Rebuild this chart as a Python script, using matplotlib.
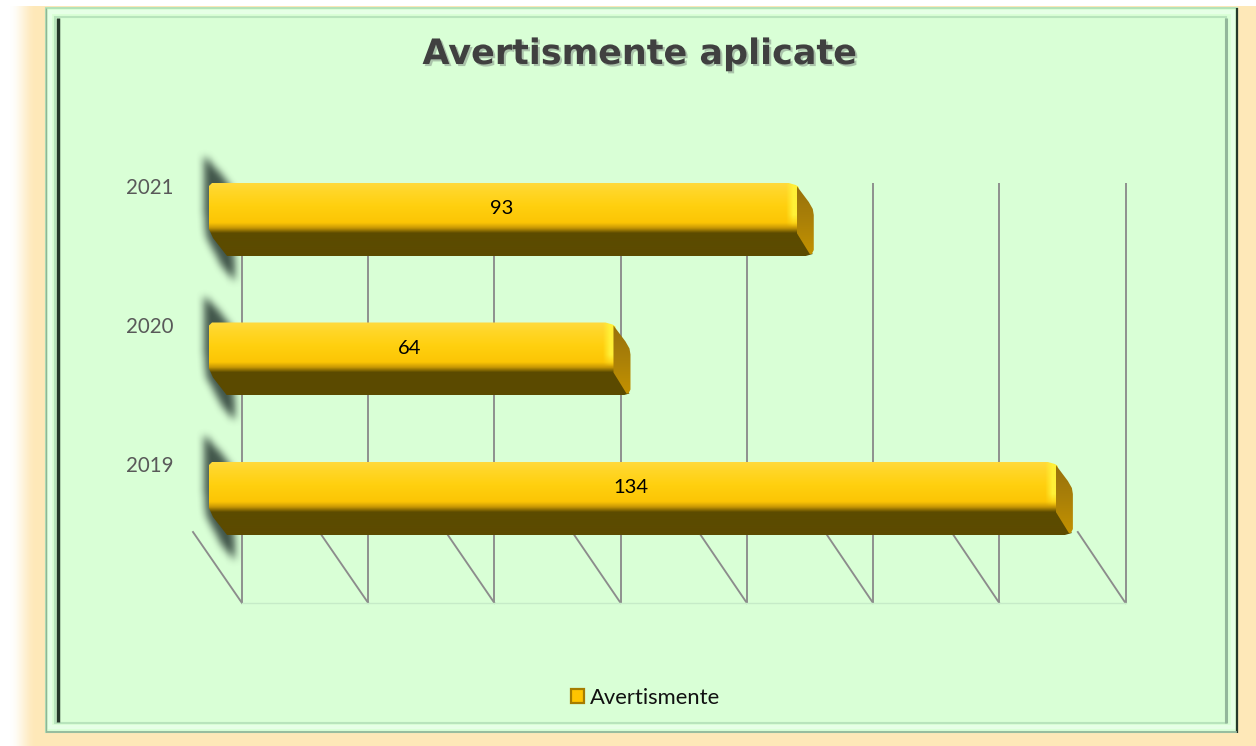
import numpy as np
import matplotlib
matplotlib.use('Agg')
import matplotlib.pyplot as plt
import matplotlib.patheffects as pe
from matplotlib.patches import Patch, Polygon
from matplotlib.path import Path
from matplotlib.transforms import Affine2D

anios = ['2019', '2020', '2021']
avertismente = [134, 64, 93]
ticks_x = [0, 20, 40, 60, 80, 100, 120, 140]
titulo = 'Avertismente aplicate'
serie = 'Avertismente'

W, H = 1256, 746
PX_VALOR = 6.32
PX_FILA = 139.5
CENTRO_2020 = 359
ALTO_PX = 73
ESCALA_ATRAS = 883.5 / 884.8

plt.rcParams['font.family'] = ['Lato', 'DejaVu Sans']


def fila(py):
    """Pasa un pixel vertical a unidades del eje de categorias."""
    return (CENTRO_2020 - py) / PX_FILA + 1


def degradado(paradas, n):
    pos = [p[0] for p in paradas]
    cols = np.array([p[1] for p in paradas], dtype=float) / 255
    t = np.linspace(0, 1, n)
    return np.stack([np.interp(t, pos, cols[:, i]) for i in range(3)], axis=1)


def suavizar(m, r):
    k = np.ones(2 * r + 1) / (2 * r + 1)
    for _ in range(2):
        m = np.apply_along_axis(lambda f: np.convolve(f, k, mode='same'), 0, m)
        m = np.apply_along_axis(lambda f: np.convolve(f, k, mode='same'), 1, m)
    return m


def dibujar_fondo(fondo):
    crema = np.array([254, 232, 184]) / 255
    img = np.ones((H, W, 3)) * crema
    t = np.clip((np.arange(W) - 9) / 27, 0, 1)
    t = (t * t * (3 - 2 * t))[None, :, None]
    img = 1 - (1 - img) * t
    img[:6, :] = 1
    fondo.imshow(img, extent=(0, W, H, 0), aspect='auto', zorder=0)
    fondo.add_patch(plt.Rectangle((45, 7), 1193, 726, color='#D9FFD6', lw=0, zorder=1))
    # marco biselado
    fondo.add_patch(plt.Rectangle((46, 8), 1191, 724, fill=False, ec='#B4E2B8', lw=1.5, zorder=2))
    fondo.add_patch(plt.Rectangle((50, 12), 1183, 715, fill=False, ec='#E6FFE6', lw=3, zorder=2))
    fondo.add_patch(plt.Rectangle((55, 17), 1171, 706, fill=False, ec='#B8E4BC', lw=1.5, zorder=2))
    fondo.plot([58, 58], [18, 722], color='#26382B', lw=2.5, zorder=3, solid_capstyle='butt')
    fondo.plot([46, 46], [8, 732], color='#8FB596', lw=1, zorder=3, solid_capstyle='butt')
    fondo.plot([1226, 1226], [18, 723], color='#93B79B', lw=2.2, zorder=3, solid_capstyle='butt')
    fondo.plot([1237, 1237], [8, 733], color='#26382B', lw=1.6, zorder=3, solid_capstyle='butt')
    fondo.plot([46, 1237], [732, 732], color='#93B79B', lw=1.2, zorder=3, solid_capstyle='butt')


def dibujar_sombras(fondo, filas):
    forma = [(204, -64), (220, -47), (233, -30), (235, 62), (222, 47), (206, 17), (204, -10)]
    yy, xx = np.mgrid[0:H, 0:W]
    puntos = np.column_stack([xx.ravel() + 0.5, yy.ravel() + 0.5])
    mascara = np.zeros((H, W))
    for y in filas:
        cy = CENTRO_2020 - (y - 1) * PX_FILA
        camino = Path([(x, cy + d) for x, d in forma])
        mascara += camino.contains_points(puntos).reshape(H, W)
    alfa = suavizar(mascara, 4) * 0.95
    rgba = np.zeros((H, W, 4))
    rgba[..., :3] = np.array([58, 78, 68]) / 255
    rgba[..., 3] = alfa
    fondo.imshow(rgba, extent=(0, W, H, 0), aspect='auto', zorder=4)


def dibujar_barra(ax, barra, valor):
    x0 = barra.get_x()
    y_sup = barra.get_y() + barra.get_height()
    y_inf = barra.get_y()
    fin = x0 + barra.get_width()
    dx = 1 / PX_VALOR
    dy = 1 / PX_FILA
    y_pliegue = y_sup - 52 * dy

    ancho = int(round((valor + 3) * PX_VALOR))
    perfil = degradado([(0, (255, 218, 62)), (0.12, (255, 214, 40)), (0.32, (255, 208, 15)),
                        (0.55, (252, 197, 5)), (0.62, (200, 152, 5)), (0.69, (92, 75, 0)),
                        (1, (92, 75, 0))], ALTO_PX)
    img = np.repeat(perfil[:, None, :], ancho, axis=1)
    # brillo del extremo de la barra
    luz = np.array([255, 240, 55]) / 255
    xs = (np.arange(ancho) - (valor * PX_VALOR - 11)) / 7
    k = np.clip(xs, 0, 1)[None, :, None] * np.clip((44 - np.arange(ALTO_PX)) / 12, 0, 1)[:, None, None]
    img = img * (1 - k) + luz * k
    extent = (x0, x0 + ancho * dx, y_inf, y_sup)
    im = ax.imshow(img, extent=extent, aspect='auto', zorder=3)
    contorno = Polygon([(x0 + 3 * dx, y_sup), (fin - 8 * dx, y_sup), (fin - 1 * dx, y_sup - 2 * dy),
                        (fin + 2 * dx, y_sup - 4 * dy), (fin + 2 * dx, y_pliegue),
                        (fin + 16 * dx, y_inf + 2 * dy), (fin + 9 * dx, y_inf),
                        (x0 + 18 * dx, y_inf), (x0 + 4 * dx, y_inf + 18 * dy),
                        (x0, y_inf + 27 * dy), (x0, y_sup - 3 * dy)],
                       transform=ax.transData, fc='none', ec='none')
    ax.add_patch(contorno)
    im.set_clip_path(contorno)

    # tapa del extremo derecho
    tapa_img = degradado([(0, (150, 112, 12)), (0.5, (170, 128, 8)), (1, (196, 146, 0))], 70)[:, None, :]
    tapa = ax.imshow(tapa_img, extent=(fin, fin + 18 * dx, y_inf, y_sup), aspect='auto', zorder=4)
    borde = Polygon([(fin, y_sup - 3 * dy), (fin + 12 * dx, y_sup - 19 * dy),
                     (fin + 16 * dx, y_sup - 26 * dy), (fin + 17 * dx, y_sup - 32 * dy),
                     (fin + 17 * dx, y_inf + 6 * dy), (fin + 15 * dx, y_inf + 2 * dy),
                     (fin + 13 * dx, y_inf + 2 * dy), (fin, y_pliegue + 2 * dy)],
                    transform=ax.transData, fc='none', ec='none')
    ax.add_patch(borde)
    tapa.set_clip_path(borde)


def crear_grafico():
    fig = plt.figure(figsize=(W / 100, H / 100), dpi=100, facecolor='white')
    fondo = fig.add_axes([0, 0, 1, 1], zorder=0)
    ax = fig.add_axes([209 / W, 1 - 568.25 / H, 884.8 / W, 418.5 / H], zorder=1)
    ax.patch.set_visible(False)

    dibujar_fondo(fondo)
    filas = np.arange(len(anios))
    dibujar_sombras(fondo, filas)
    fondo.set_xlim(0, W)
    fondo.set_ylim(H, 0)
    fondo.axis('off')

    # la pared del fondo va un poco mas estrecha que el frente
    atras = ax.transData + Affine2D().translate(-209, 0).scale(ESCALA_ATRAS, 1).translate(242, 0)
    ax.vlines(ticks_x, fila(603), fila(183), color='#8C8C8C', lw=1.35, transform=atras,
              clip_on=False, zorder=1)
    for t in ticks_x:
        ax.plot([t - 16 / PX_VALOR, t * ESCALA_ATRAS + 33 / PX_VALOR], [fila(532), fila(603)],
                color='#8C8C8C', lw=1.35, clip_on=False, zorder=1)
    ax.plot([ticks_x[0], ticks_x[-1]], [fila(603), fila(603)], color='#C6EBC8', lw=1,
            transform=atras, clip_on=False, zorder=1)

    barras = ax.barh(filas, avertismente, height=ALTO_PX / PX_FILA, color='none', zorder=2)
    for barra, valor in zip(barras, avertismente):
        dibujar_barra(ax, barra, valor)
    for y, valor in zip(filas, avertismente):
        ax.annotate(str(valor), (valor / 2, y), xytext=(-1, 7.8), textcoords='offset points',
                    ha='center', va='center', fontsize=14.5, color='black', zorder=6)

    ax.set_xlim(ticks_x[0], ticks_x[-1])
    ax.set_ylim(-0.5, 2.5)
    ax.set_yticks(filas, anios)
    ax.set_xticks([])
    ax.tick_params(axis='y', length=0, pad=25.5, labelsize=14.8, labelcolor='#595959')
    for etiqueta in ax.get_yticklabels():
        etiqueta.set_transform(etiqueta.get_transform() + Affine2D().translate(0, 34))
    for s in ax.spines.values():
        s.set_visible(False)

    fig.text(640 / W, 1 - 54 / H, titulo, ha='center', va='center', fontsize=25.2, fontweight='bold',
             family=['DejaVu Sans'], color='#404040',
             path_effects=[pe.withSimplePatchShadow(offset=(1.5, -1.5), shadow_rgbFace='#9FB59F', alpha=0.8)])

    mano = Patch(facecolor='#FFC400', edgecolor='#A67C00', lw=1.6)
    fig.legend([mano], [serie], loc='center', bbox_to_anchor=(645.5 / W, 1 - 698 / H), frameon=False,
               fontsize=15.8, handlelength=0.6, handleheight=0.6, handletextpad=0.25, labelcolor='#111111')

    fig.savefig('out.png', dpi=100)


if __name__ == "__main__":
    crear_grafico()
